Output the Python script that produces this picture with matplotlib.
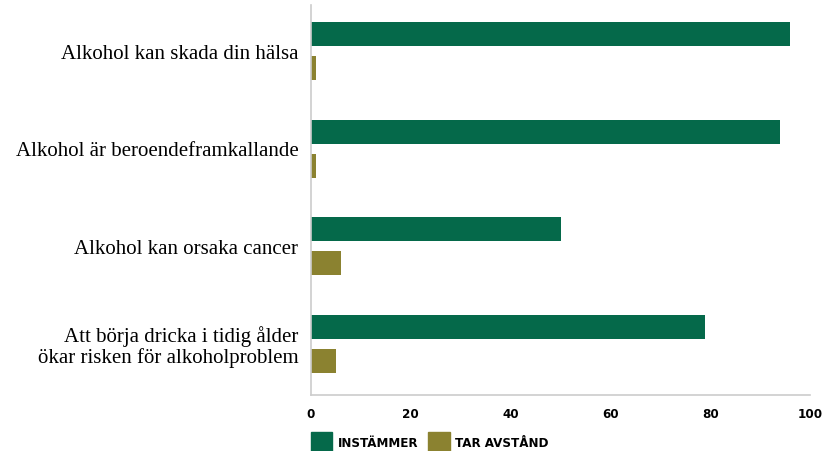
import numpy as np
import matplotlib.pyplot as plt
from matplotlib.patches import Patch


statements = [
	'Alkohol kan skada din hälsa',
	'Alkohol är beroendeframkallande',
	'Alkohol kan orsaka cancer',
	'Att börja dricka i tidig ålder\nökar risken för alkoholproblem',
]
agree = [96, 94, 50, 79]
disagree = [1, 1, 6, 5]
series_names = ['INSTÄMMER', 'TAR AVSTÅND']
x_ticks = [0, 20, 40, 60, 80, 100]

GREEN = '#05694a'
OLIVE = '#8b8230'
sans = {'family': 'DejaVu Sans', 'stretch': 'condensed', 'weight': 'bold', 'size': 9.5}

fig = plt.figure(figsize=(8.32, 4.52), dpi=100)
ax = fig.add_axes([311 / 832, 56 / 452, 499 / 832, 390 / 452])

pos = np.arange(len(statements))
ax.barh(pos - 0.2, agree, height=0.246, color=GREEN)
ax.barh(pos + 0.149, disagree, height=0.246, color=OLIVE)

ax.set_xlim(0, 100)
ax.set_ylim(len(statements) - 0.5, -0.5)
ax.set_yticks(pos - 0.03)
ax.set_yticklabels(statements, family='Liberation Serif', fontsize=15, linespacing=1.05)
ax.set_xticks(x_ticks)
ax.set_xticklabels([str(t) for t in x_ticks], fontdict=sans)
ax.tick_params(axis='both', length=0)
ax.tick_params(axis='y', pad=9)
ax.tick_params(axis='x', pad=9)
for side in ['top', 'right']:
	ax.spines[side].set_visible(False)
for side in ['left', 'bottom']:
	ax.spines[side].set_color('#cccccc')
	ax.spines[side].set_linewidth(1.2)

handles = [Patch(color=GREEN), Patch(color=OLIVE)]
fig.legend(handles, series_names, loc='lower left', bbox_to_anchor=(311 / 832, 0),
	ncol=2, frameon=False, handlelength=1.6, handleheight=1.8, handletextpad=0.4,
	columnspacing=0.8, borderpad=0, borderaxespad=0, prop=sans)

fig.savefig('out.png')
